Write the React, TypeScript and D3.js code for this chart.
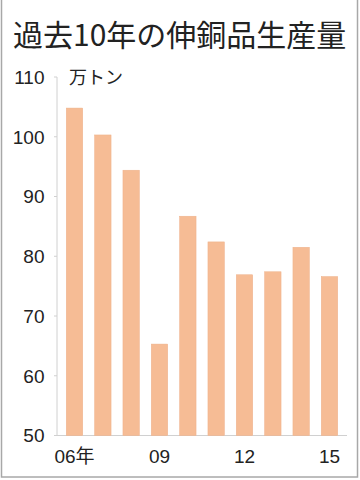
import React from "react";
import * as d3 from "d3";

const years = ["06", "07", "08", "09", "10", "11", "12", "13", "14", "15"];
const production = [104.8, 100.3, 94.4, 65.3, 86.7, 82.4, 76.9, 77.4, 81.5, 76.6];
const yTicks = [50, 60, 70, 80, 90, 100, 110];
const xLabels: Record<string, string> = { "06": "06年", "09": "09", "12": "12", "15": "15" };
const title = "過去10年の伸銅品生産量";
const unit = "万トン";

export default function App() {
  const W = 360, H = 480;
  const x0 = 57, x1 = 347, yTop = 77, yBot = 435.5;
  const x = d3.scaleBand<string>().domain(years).range([x0, x1]).paddingInner(0.42).paddingOuter(0.328);
  const y = d3.scaleLinear().domain([50, 110]).range([yBot, yTop]);
  const font = "'Liberation Sans', Arial, sans-serif";
  const jp = "'Noto Sans CJK JP', sans-serif";
  return (
    <svg width={W} height={H} style={{ position: "absolute", left: 0, top: 0 }}>
      <rect x={0} y={0} width={W} height={H} fill="#fff" />
      <rect x={1.5} y={-2} width={356} height={479} fill="none" stroke="#a8a8a8" strokeWidth={1.5} />
      <text x={13} y={46} fontFamily={jp} fontSize={30} fill="#222">{title}</text>
      <line x1={x0} x2={x0} y1={yTop} y2={yBot} stroke="#d0d0d0" strokeWidth={1} />
      <line x1={x0} x2={x1} y1={yBot} y2={yBot} stroke="#d0d0d0" strokeWidth={1} />
      {yTicks.map((t) => (
        <g key={t}>
          <line x1={x0 - 3} x2={x0} y1={y(t)} y2={y(t)} stroke="#d0d0d0" />
          <text x={44.5} y={y(t)} dy="0.36em" textAnchor="end" fontFamily={font} fontSize={19} fill="#222">{t}</text>
        </g>
      ))}
      <text x={69} y={84} fontFamily={jp} fontSize={18} fill="#222">{unit}</text>
      {years.map((yr, i) => (
        <rect key={yr} x={x(yr)} y={y(production[i])} width={x.bandwidth()} height={yBot - y(production[i])}
          fill="#F6BC95" stroke="#EDB089" strokeWidth={0.5} />
      ))}
      {years.filter((yr) => xLabels[yr]).map((yr) => (
        <text key={yr} x={(x(yr) as number) + x.bandwidth() / 2} y={463} textAnchor="middle" fontFamily={font} fontSize={19} fill="#222">
          {yr === "06" ? (<><tspan>06</tspan><tspan fontFamily={jp}>年</tspan></>) : xLabels[yr]}
        </text>
      ))}
    </svg>
  );
}
